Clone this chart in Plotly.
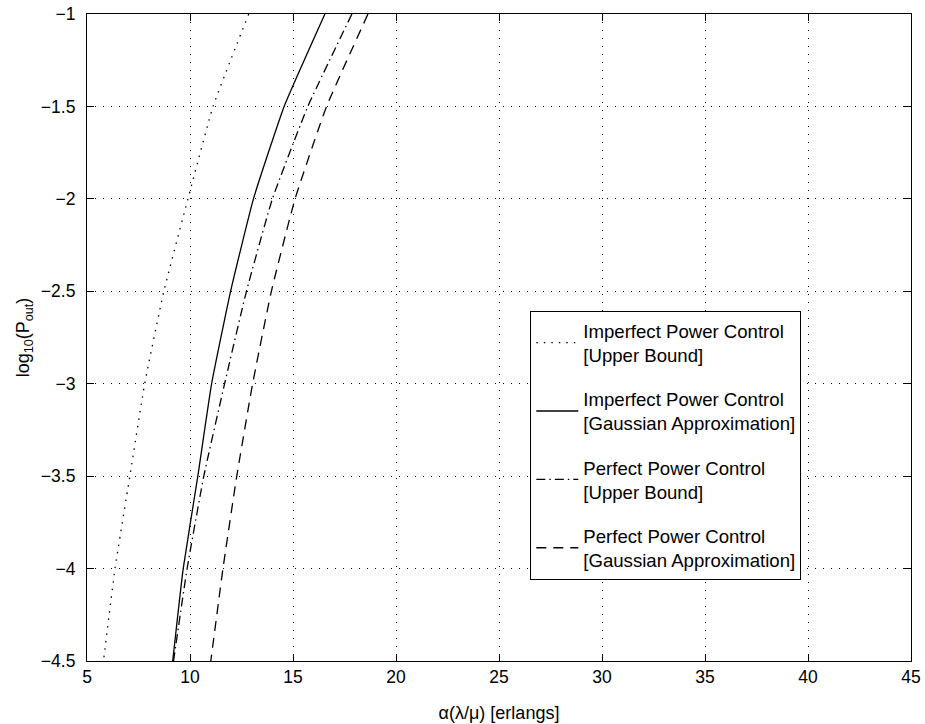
import plotly.graph_objects as go

# log10(Pout) levels (y) and the corresponding load values (x) for each curve
y_levels = [-1.0, -1.5, -2.0, -2.5, -3.0, -3.5, -4.0, -4.5]

x_imperfect_ub = [12.85, 11.12, 9.9, 8.73, 7.8, 7.08, 6.36, 5.8]
x_imperfect_ga = [16.55, 14.57, 13.08, 11.97, 11.05, 10.38, 9.67, 9.16]
x_perfect_ub = [17.86, 15.72, 14.0, 12.74, 11.68, 10.67, 9.86, 9.2]
x_perfect_ga = [18.64, 16.63, 15.1, 13.95, 13.04, 12.27, 11.6, 11.01]

names = [
    "Imperfect Power Control<br>[Upper Bound]",
    "Imperfect Power Control<br>[Gaussian Approximation]",
    "Perfect Power Control<br>[Upper Bound]",
    "Perfect Power Control<br>[Gaussian Approximation]",
]
series = [x_imperfect_ub, x_imperfect_ga, x_perfect_ub, x_perfect_ga]
dashes = ["1.5px,6px", "solid", "9px,4px,1.5px,4px", "10px,7px"]

FONT = "Liberation Sans, Arial, Helvetica, sans-serif"

fig = go.Figure()
for i, (nm, xs, d) in enumerate(zip(names, series, dashes)):
    fig.add_trace(go.Scatter(
        x=xs, y=y_levels, mode="lines", name=nm,
        legendgroup=f"g{i}",
        line=dict(color="black", width=1.3, dash=d, shape="spline", smoothing=0.4),
    ))

axis_common = dict(
    showline=True, linecolor="black", linewidth=1.2, mirror="ticks",
    ticks="inside", ticklen=7, tickcolor="black", tickwidth=1.2,
    showgrid=True, gridcolor="black", gridwidth=1, griddash="1px,7px",
    zeroline=False, automargin=False,
    tickfont=dict(family=FONT, size=17.5, color="black"),
)

fig.update_xaxes(
    range=[5, 45], tickvals=[5, 10, 15, 20, 25, 30, 35, 40, 45],
    title=dict(text="α(λ/μ) [erlangs]", font=dict(family=FONT, size=18, color="black"), standoff=20),
    **axis_common,
)
fig.update_yaxes(
    range=[-4.5, -1], tickvals=[-4.5, -4, -3.5, -3, -2.5, -2, -1.5, -1],
    ticktext=["−4.5", "−4", "−3.5", "−3", "−2.5", "−2", "−1.5", "−1"],
    ticklabelstandoff=7,
    title=dict(text="log<sub>10</sub>(P<sub>out</sub>)", font=dict(family=FONT, size=18, color="black"), standoff=6),
    **axis_common,
)

fig.update_layout(
    width=925, height=724,
    margin=dict(l=87, r=14, t=14, b=63),
    plot_bgcolor="white", paper_bgcolor="white",
    font=dict(family=FONT, size=16, color="black"),
    showlegend=True,
    legend=dict(
        x=0.538, y=0.541, xanchor="left", yanchor="top",
        bgcolor="white", bordercolor="black", borderwidth=1,
        font=dict(family=FONT, size=18.6, color="black"),
        tracegroupgap=17, itemwidth=42,
    ),
)

fig.write_html("out.html")
